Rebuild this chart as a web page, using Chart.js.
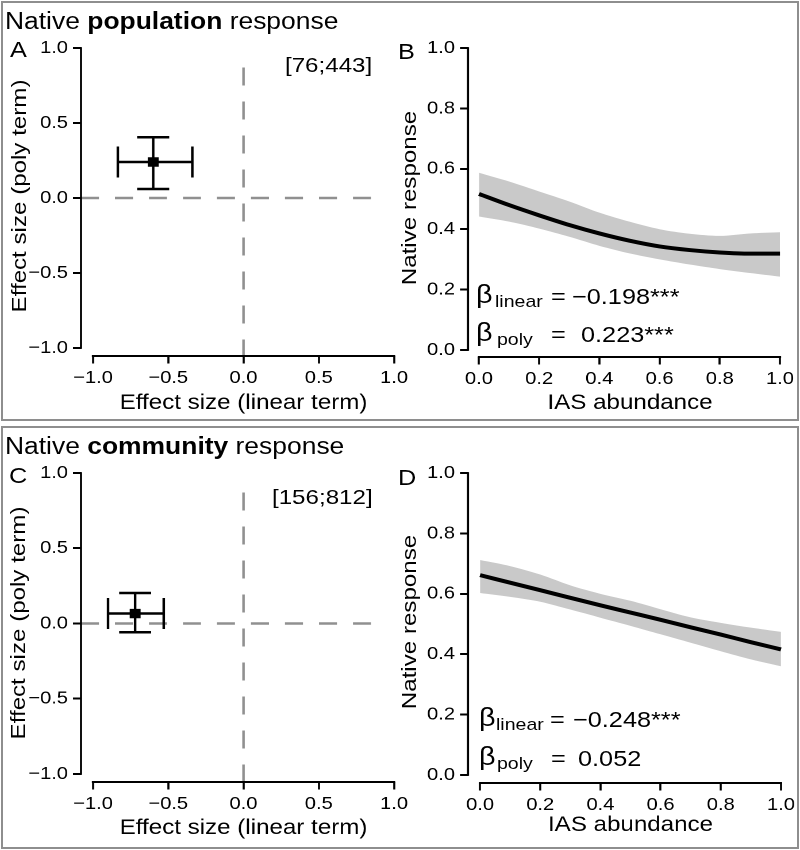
<!DOCTYPE html>
<html>
<head>
<meta charset="utf-8">
<script src="https://cdn.jsdelivr.net/npm/chart.js@4.4.1/dist/chart.umd.min.js"></script>
<style>
  body { margin: 0; background: #fff; }
  #wrap { position: relative; width: 800px; height: 850px; overflow: hidden; background: #fff; }
  .box { position: absolute; border: 2px solid #8e8e8e; box-sizing: border-box; }
  canvas { position: absolute; left: 0; top: 0; }
  .txt { position: absolute; white-space: nowrap; transform: scaleX(1.149); transform-origin: 0 0;
         font-family: "Liberation Sans", Arial, sans-serif; color: #000; }
  .vtxt { position: absolute; white-space: nowrap; transform: translate(-50%, -50%) rotate(-90deg) scaleX(1.149);
          font-family: "Liberation Sans", Arial, sans-serif; color: #000; }
</style>
</head>
<body>
<div id="wrap">
  <div class="box" style="left:1px;top:1px;width:798px;height:420px"></div>
  <div class="box" style="left:1px;top:426px;width:798px;height:423px"></div>
  <canvas id="panelA" width="696" height="850" style="width:800px;height:850px"></canvas>
  <canvas id="panelB" width="696" height="850" style="width:800px;height:850px"></canvas>
  <canvas id="panelC" width="696" height="850" style="width:800px;height:850px"></canvas>
  <canvas id="panelD" width="696" height="850" style="width:800px;height:850px"></canvas>
</div>
<script>
// the original lettering is wider than Arial, so canvases are stretched horizontally
const SX = 800 / 696;
const FONT = '"Liberation Sans", Arial, sans-serif';

// --- data ---
const effectTicks = [-1, -0.5, 0, 0.5, 1];
const responseTicks = [0, 0.2, 0.4, 0.6, 0.8, 1];
const abundance = [0, 0.1, 0.2, 0.3, 0.4, 0.5, 0.6, 0.7, 0.8, 0.9, 1];

// effect sizes: [low, estimate, high]
const popLinear = [-0.835, -0.60, -0.34];
const popPoly = [0.06, 0.24, 0.405];
const comLinear = [-0.90, -0.72, -0.53];
const comPoly = [-0.058, 0.066, 0.203];

// extent of the dashed zero lines
const zeroAcross = [-1.08, 0.85];
const zeroUp = [0.87, -1.06];

// predicted native response along IAS abundance
const popFit = [0.517, 0.480, 0.446, 0.414, 0.386, 0.362, 0.343, 0.331, 0.323, 0.319, 0.319];
const popHigh = [0.587, 0.558, 0.525, 0.492, 0.455, 0.425, 0.400, 0.385, 0.378, 0.386, 0.390];
const popLow = [0.442, 0.425, 0.402, 0.375, 0.345, 0.320, 0.300, 0.283, 0.268, 0.255, 0.243];
const comFit = [0.662, 0.637, 0.612, 0.587, 0.562, 0.538, 0.514, 0.489, 0.465, 0.440, 0.416];
const comHigh = [0.712, 0.692, 0.664, 0.628, 0.600, 0.577, 0.549, 0.522, 0.504, 0.488, 0.474];
const comLow = [0.603, 0.590, 0.574, 0.548, 0.521, 0.494, 0.466, 0.438, 0.410, 0.383, 0.360];

const fmt = v => v.toFixed(1).replace('-', '\u2212');
const toPts = (xs, ys) => xs.map((x, i) => ({ x: x, y: ys[i] }));

// R style axes: line only between first and last tick
const rAxes = {
  id: 'rAxes',
  afterDraw(chart) {
    const { ctx, chartArea, scales } = chart;
    const x = scales.x, y = scales.y;
    ctx.save();
    ctx.strokeStyle = '#000';
    ctx.lineCap = 'square';
    ctx.lineWidth = 2;
    ctx.beginPath();
    ctx.moveTo(x.getPixelForValue(x.ticks[0].value), chartArea.bottom);
    ctx.lineTo(x.getPixelForValue(x.ticks[x.ticks.length - 1].value), chartArea.bottom);
    ctx.stroke();
    ctx.lineWidth = 1.8;
    ctx.beginPath();
    ctx.moveTo(chartArea.left, y.getPixelForValue(y.ticks[0].value));
    ctx.lineTo(chartArea.left, y.getPixelForValue(y.ticks[y.ticks.length - 1].value));
    ctx.stroke();
    ctx.restore();
  }
};

function baseOptions(g, xTicks, yTicks, xTitle) {
  const half = 21 * 1.2 / 2;
  const scaleBottom = g.xTitleY + half;
  const tickFont = { family: FONT, size: 17.5 };
  const titleFont = { family: FONT, size: 21 };
  return {
    responsive: false,
    devicePixelRatio: 2,
    animation: false,
    events: [],
    layout: { padding: { left: 0, right: 696 - g.R / SX, top: g.T, bottom: 850 - scaleBottom } },
    plugins: { legend: { display: false }, tooltip: { enabled: false } },
    scales: {
      x: {
        type: 'linear', min: g.xMin, max: g.xMax,
        afterBuildTicks: s => { s.ticks = xTicks.map(v => ({ value: v })); },
        afterFit: s => { s.height = scaleBottom - g.B; s.paddingLeft = 0; s.paddingRight = 0; },
        border: { display: false },
        grid: { drawOnChartArea: false, tickLength: 7.5, tickWidth: 1.8, tickColor: '#000' },
        ticks: { autoSkip: false, maxRotation: 0, padding: 4, color: '#000', font: tickFont, callback: fmt },
        title: { display: true, text: xTitle, color: '#000', padding: 0, font: titleFont }
      },
      y: {
        type: 'linear', min: g.yMin, max: g.yMax,
        afterBuildTicks: s => { s.ticks = yTicks.map(v => ({ value: v })); },
        afterFit: s => { s.width = g.L / SX; s.paddingTop = 0; s.paddingBottom = 0; },
        border: { display: false },
        grid: { drawOnChartArea: false, tickLength: 8 / SX, tickWidth: 2, tickColor: '#000' },
        ticks: { autoSkip: false, padding: 5 / SX, color: '#000', font: tickFont, callback: fmt }
      }
    }
  };
}

// lower "order" is drawn on top
function effectPanel(id, g, linear, poly) {
  const datasets = [
    { order: 5, data: [{ x: zeroAcross[0], y: 0 }, { x: zeroAcross[1], y: 0 }], borderColor: '#909090',
      borderWidth: 2.5, borderDash: [18 / SX, 16 / SX], pointRadius: 0 },
    { order: 4, data: [{ x: 0, y: zeroUp[0] }, { x: 0, y: zeroUp[1] }], borderColor: '#909090',
      borderWidth: 2.5 / SX, borderDash: [18, 16], pointRadius: 0 },
    // horizontal whisker with vertical caps
    { order: 3, data: [{ x: linear[0], y: poly[1] }, { x: linear[2], y: poly[1] }], borderColor: '#000', borderWidth: 2.5,
      pointStyle: 'line', pointRotation: 90, pointRadius: 15.5, pointBorderWidth: 2.2, pointBorderColor: '#000' },
    // vertical whisker with horizontal caps
    { order: 2, data: [{ x: linear[1], y: poly[0] }, { x: linear[1], y: poly[2] }], borderColor: '#000', borderWidth: 2.2,
      pointStyle: 'line', pointRotation: 0, pointRadius: 16 / SX, pointBorderWidth: 2.5, pointBorderColor: '#000' },
    { order: 1, data: [{ x: linear[1], y: poly[1] }], showLine: false, pointStyle: 'rect', pointRadius: 6,
      pointBackgroundColor: '#000', pointBorderColor: '#000', pointBorderWidth: 1 }
  ];
  return new Chart(document.getElementById(id), {
    type: 'line',
    data: { datasets: datasets },
    options: baseOptions(g, effectTicks, effectTicks, 'Effect size (linear term)'),
    plugins: [rAxes]
  });
}

function responsePanel(id, g, fit, low, high) {
  const datasets = [
    { order: 3, data: toPts(abundance, high), borderWidth: 0, pointRadius: 0, tension: 0.3,
      fill: '+1', backgroundColor: '#c9c9c9' },
    { order: 2, data: toPts(abundance, low), borderWidth: 0, pointRadius: 0, tension: 0.3, fill: false },
    { order: 1, data: toPts(abundance, fit), borderColor: '#000', borderWidth: 4, pointRadius: 0,
      cubicInterpolationMode: 'monotone', fill: false }
  ];
  return new Chart(document.getElementById(id), {
    type: 'line',
    data: { datasets: datasets },
    options: baseOptions(g, responseTicks, responseTicks, 'IAS abundance'),
    plugins: [rAxes]
  });
}

effectPanel('panelA', { L: 81, R: 406, T: 36, B: 356, xTitleY: 403,
  xMin: -1.0797, xMax: 1.0797, yMin: -1.0533, yMax: 1.08 }, popLinear, popPoly);
responsePanel('panelB', { L: 468, R: 792, T: 36, B: 357, xTitleY: 403,
  xMin: -0.0365, xMax: 1.04, yMin: -0.0232, yMax: 1.04 }, popFit, popLow, popHigh);
effectPanel('panelC', { L: 81, R: 406, T: 461, B: 782, xTitleY: 828,
  xMin: -1.0797, xMax: 1.0797, yMin: -1.0532, yMax: 1.0797 }, comLinear, comPoly);
responsePanel('panelD', { L: 468, R: 793, T: 461, B: 783, xTitleY: 825,
  xMin: -0.04, xMax: 1.04, yMin: -0.0265, yMax: 1.04 }, comFit, comLow, comHigh);

// --- text: titles, panel letters, sample sizes, coefficients ---
const wrap = document.getElementById('wrap');
function putText(content, x, base, size) {
  const d = document.createElement('div');
  d.className = 'txt';
  d.innerHTML = content;
  d.style.left = x + 'px';
  d.style.top = (base - 0.8465 * size) + 'px';
  d.style.fontSize = size + 'px';
  d.style.lineHeight = size + 'px';
  wrap.appendChild(d);
}
// rotated y-axis titles, centred on (cx, cy)
function putVText(content, cx, cy, size) {
  const d = document.createElement('div');
  d.className = 'vtxt';
  d.textContent = content;
  d.style.left = cx + 'px';
  d.style.top = cy + 'px';
  d.style.fontSize = size + 'px';
  d.style.lineHeight = size + 'px';
  wrap.appendChild(d);
}
putText('Native <b>population</b> response', 5, 29.3, 23);
putText('Native <b>community</b> response', 5, 454, 23);
putText('A', 10, 58, 22);
putText('B', 398, 59.5, 22);
putText('C', 9, 484, 22);
putText('D', 398, 485.5, 22);
putText('[76;443]', 285, 71.7, 21);
putText('[156;812]', 272, 503.3, 21);

putVText('Effect size (poly term)', 18, 196, 21);
putVText('Native response', 408, 198, 21);
putVText('Effect size (poly term)', 17, 623, 21);
putVText('Native response', 408, 622, 21);

putText('\u03b2', 476, 303, 25);
putText('linear', 495, 307.5, 17);
putText('=', 551, 305, 22);
putText('\u22120.198***', 572, 305, 22);
putText('\u03b2', 476, 341, 25);
putText('poly', 497, 345, 17);
putText('=', 551, 343, 22);
putText('0.223***', 581, 343, 22);

putText('\u03b2', 479, 726, 25);
putText('linear', 496, 730.5, 17);
putText('=', 550, 728, 22);
putText('\u22120.248***', 573, 728, 22);
putText('\u03b2', 479, 765, 25);
putText('poly', 497, 769, 17);
putText('=', 551, 767, 22);
putText('0.052', 578, 767, 22);
</script>
</body>
</html>
